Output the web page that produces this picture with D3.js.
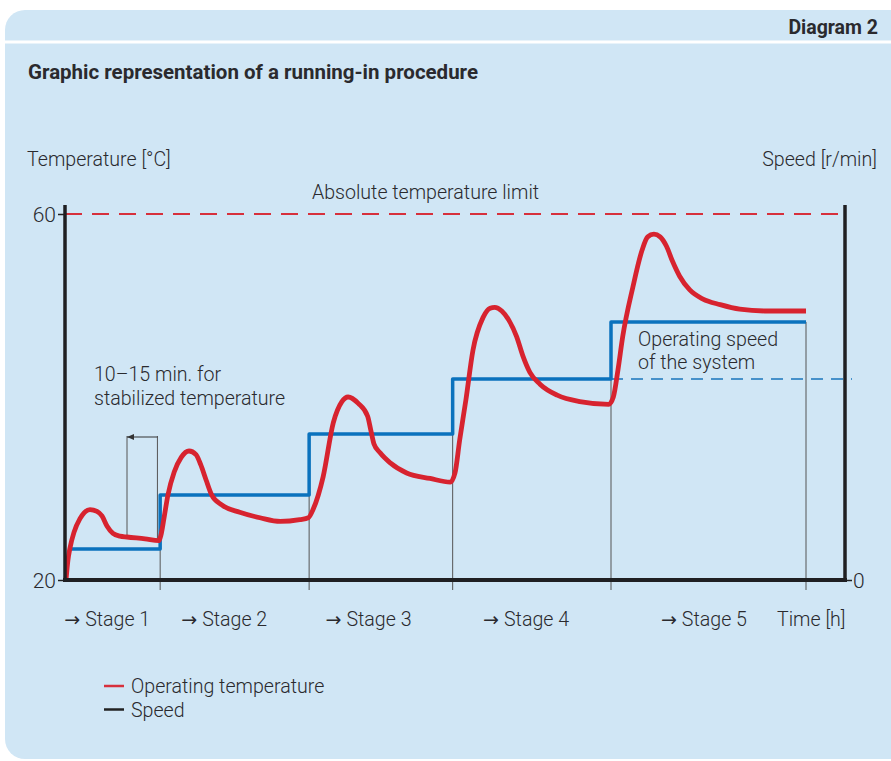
<!DOCTYPE html>
<html><head><meta charset="utf-8">
<script src="https://cdn.jsdelivr.net/npm/d3@7"></script>
<style>
body{margin:0;background:#fff;}
svg text{font-family:Roboto,"Noto Sans",sans-serif;fill:#2a2a2e;}
svg tspan.arr{font-family:"DejaVu Sans";font-size:19px;font-weight:400;}
</style></head>
<body>
<script>
// ---- data ----
const tempTime = [0.13,0.38,0.64,1.15,1.92,3.2,4.1,4.74,5.38,6.15,7.05,7.95,10.26,12.05,
 12.3,12.7,13.2,14.0,14.9,15.9,16.8,17.4,18.1,18.8,20.1,22.4,25.0,27.6,30.1,31.2,
 31.8,33.1,34.4,35.5,36.3,37.6,38.8,39.2,39.6,40.4,41.7,43.8,46.8,49.4,
 50.0,50.6,51.4,52.3,53.6,54.5,55.1,56.0,56.9,57.9,58.7,59.6,60.9,63.1,66.0,69.7,
 70.3,70.9,71.5,72.8,74.0,74.7,75.5,76.3,77.1,77.9,78.8,80.1,81.8,84.0,86.5,89.7,95.0];
const tempValue = [20.0,22.2,23.5,25.2,26.7,27.7,27.5,27.0,25.9,25.1,24.8,24.7,24.5,24.3,
 24.9,26.8,29.3,31.8,33.4,34.1,33.7,32.6,30.9,29.3,28.2,27.4,26.8,26.4,26.6,26.8,
 27.7,31.3,37.2,39.5,40.0,39.3,37.9,36.4,34.9,33.9,32.8,31.7,31.1,30.7,
 31.7,35.3,39.7,45.1,48.7,49.7,49.8,49.4,48.4,46.6,44.5,42.7,41.4,40.2,39.5,39.2,
 40.0,43.0,46.6,52.0,56.1,57.5,57.8,57.5,56.5,54.8,53.2,51.7,50.7,50.1,49.6,49.4,49.4];
const stageStart = [0.6,12.2,31.3,49.7,70.0];
const stageEnd   = [12.2,31.3,49.7,70.0,95.0];
const stageSpeed = [8.5,23.2,39.9,54.9,70.5];
const stageLabels = ["Stage 1","Stage 2","Stage 3","Stage 4","Stage 5"];
const stageLabelTime = [-0.1,14.9,33.4,53.6,76.4];
const tempTicks = [20,60];
const speedTicks = [0];
const tempLimit = 60;
const operatingSpeed = 54.9;
const bracketTime = [7.95,11.85];

// ---- layout ----
const W=891,H=761;
const FS=19.6;
const svg=d3.select("body").append("svg").attr("width",W).attr("height",H);
const x=d3.scaleLinear([0,100],[65,845]);
const yT=d3.scaleLinear([20,60],[580,214]);
const yS=d3.scaleLinear([0,100],[580,214]);

// panel
svg.append("rect").attr("x",5).attr("y",10).attr("width",930).attr("height",749)
  .attr("rx",20).attr("fill","#d0e6f5");
svg.append("line").attr("x1",5).attr("x2",W).attr("y1",42).attr("y2",42)
  .attr("stroke","#fff").attr("stroke-width",3);
svg.append("text").attr("x",878).attr("y",34).attr("text-anchor","end")
  .attr("font-size",19.5).attr("font-weight",700).text("Diagram 2");
svg.append("text").attr("x",28).attr("y",79).attr("font-size",20).attr("font-weight",700)
  .attr("textLength",450).attr("lengthAdjust","spacingAndGlyphs")
  .text("Graphic representation of a running-in procedure");

// axis titles
svg.append("text").attr("x",27).attr("y",166).attr("font-size",FS).attr("font-weight",300).text("Temperature [°C]");
svg.append("text").attr("x",877).attr("y",166).attr("text-anchor","end").attr("font-size",FS).attr("font-weight",300).text("Speed [r/min]");

// temperature limit
svg.append("line").attr("x1",x(0)).attr("x2",x(100)).attr("y1",yT(tempLimit)).attr("y2",yT(tempLimit))
  .attr("stroke","#d7303c").attr("stroke-width",2).attr("stroke-dasharray","17,10");
svg.append("text").attr("x",425.5).attr("y",199).attr("text-anchor","middle").attr("font-size",FS).attr("font-weight",300)
  .text("Absolute temperature limit");

// operating speed dashed
svg.append("line").attr("x1",x(stageStart[4])).attr("x2",x(100)+7).attr("y1",yS(operatingSpeed)).attr("y2",yS(operatingSpeed))
  .attr("stroke","#1a75bc").attr("stroke-width",1.6).attr("stroke-dasharray","12,8");
svg.append("text").attr("x",638).attr("y",346).attr("font-size",FS).attr("font-weight",300).text("Operating speed");
svg.append("text").attr("x",638).attr("y",369).attr("font-size",FS).attr("font-weight",300).text("of the system");

// stage boundary lines
stageEnd.forEach((t,i)=>{
  svg.append("line").attr("x1",x(t)).attr("x2",x(t)).attr("y1",yS(stageSpeed[i])).attr("y2",590)
    .attr("stroke","#555").attr("stroke-width",1);
});

// bracket
bracketTime.forEach((t,i)=>{
  svg.append("line").attr("x1",x(t)).attr("x2",x(t)).attr("y1",436).attr("y2",i===0?537:541)
    .attr("stroke","#555").attr("stroke-width",1);
});
svg.append("line").attr("x1",x(bracketTime[0])).attr("x2",x(bracketTime[1])).attr("y1",437).attr("y2",437)
  .attr("stroke","#333").attr("stroke-width",1);
svg.append("path").attr("d",`M${x(bracketTime[0])},437 l7,-3 l0,6 z`).attr("fill","#333");
svg.append("text").attr("x",94).attr("y",381).attr("font-size",FS).attr("font-weight",300).text("10–15 min. for");
svg.append("text").attr("x",94).attr("y",405).attr("font-size",FS).attr("font-weight",300).text("stabilized temperature");

// speed step line
const stepPts=[];
stageSpeed.forEach((s,i)=>{stepPts.push([stageStart[i],s]);stepPts.push([stageEnd[i],s]);});
svg.append("path").datum(stepPts)
  .attr("d",d3.line().x(d=>x(d[0])).y(d=>yS(d[1])))
  .attr("fill","none").attr("stroke","#0a72bd").attr("stroke-width",3.5).attr("stroke-linejoin","round");

// temperature curve
const tData=tempTime.map((t,i)=>[t,tempValue[i]]);
svg.append("path").datum(tData)
  .attr("d",d3.line().x(d=>x(d[0])).y(d=>yT(d[1])).curve(d3.curveMonotoneX))
  .attr("fill","none").attr("stroke","#d7232f").attr("stroke-width",4.8).attr("stroke-linecap","butt");

// axes
const gl=svg.append("g").attr("transform","translate(65,0)")
  .call(d3.axisLeft(yT).tickValues(tempTicks).tickSize(7).tickPadding(2).tickFormat(d3.format("d")));
gl.select(".domain").remove();
gl.selectAll("line").attr("stroke","#222").attr("stroke-width",1.5);
gl.selectAll("text").attr("font-size",21).attr("font-weight",300).attr("font-family","Roboto").attr("fill","#2a2a2e").attr("dy","0.36em");
const gr=svg.append("g").attr("transform","translate(845,0)")
  .call(d3.axisRight(yS).tickValues(speedTicks).tickSize(7).tickPadding(1));
gr.select(".domain").remove();
gr.selectAll("line").attr("stroke","#222").attr("stroke-width",1.5);
gr.selectAll("text").attr("font-size",21).attr("font-weight",300).attr("font-family","Roboto").attr("fill","#2a2a2e").attr("dy","0.36em");

svg.append("line").attr("x1",65).attr("x2",65).attr("y1",205).attr("y2",582).attr("stroke","#1f1f22").attr("stroke-width",3.5);
svg.append("line").attr("x1",845).attr("x2",845).attr("y1",205).attr("y2",582).attr("stroke","#1f1f22").attr("stroke-width",3.5);
svg.append("line").attr("x1",63).attr("x2",847).attr("y1",580).attr("y2",580).attr("stroke","#1f1f22").attr("stroke-width",4);

// stage labels
stageLabels.forEach((s,i)=>{
  const t=svg.append("text").attr("x",x(stageLabelTime[i])).attr("y",626).attr("font-size",FS).attr("font-weight",300);
  t.append("tspan").attr("class","arr").text("→");
  t.append("tspan").attr("dx",5).text(s);
});
svg.append("text").attr("x",777).attr("y",626).attr("font-size",FS).attr("font-weight",300).text("Time [h]");

// legend
const legend=[["Operating temperature","#d7303c"],["Speed","#222"]];
legend.forEach((d,i)=>{
  const y=686+i*23.5;
  svg.append("line").attr("x1",104).attr("x2",124).attr("y1",y).attr("y2",y).attr("stroke",d[1]).attr("stroke-width",2.5);
  svg.append("text").attr("x",131).attr("y",y+7).attr("font-size",FS).attr("font-weight",300).text(d[0]);
});
</script>
</body></html>
